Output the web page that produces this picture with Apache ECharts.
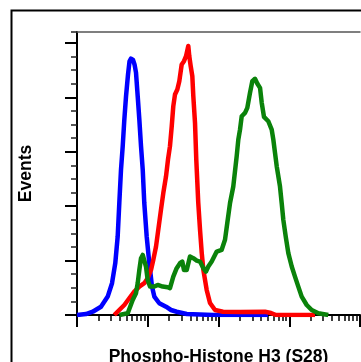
<!DOCTYPE html>
<html>
<head>
<meta charset="utf-8">
<script src="https://cdn.jsdelivr.net/npm/echarts@6/dist/echarts.min.js"></script>
<style>
  html, body { margin: 0; padding: 0; background: #fff; }
  #chart { width: 361px; height: 362px; }
</style>
</head>
<body>
<div id="chart"></div>
<script>
// x = fluorescence in decades (log10), y = events
const blue = [[0,0],[0.127,0.9],[0.222,3.0],[0.339,7.6],[0.434,16.9],[0.495,29.2],[0.541,47.6],[0.575,72.1],[0.598,102.9],[0.622,133.5],[0.646,155.0],[0.669,179.6],[0.693,201.0],[0.721,221.0],[0.742,233.0],[0.763,235.5],[0.792,234.3],[0.813,230.2],[0.834,222.6],[0.858,201.0],[0.881,179.6],[0.905,155.0],[0.929,133.5],[0.951,102.9],[0.985,72.1],[1.022,47.6],[1.060,26.1],[1.093,16.9],[1.163,10.8],[1.258,7.6],[1.329,4.6],[1.409,3.0],[1.551,0.9],[1.923,0],[2.7,0]];

const red = [[0.527,0],[0.598,4.6],[0.669,9.2],[0.739,15.4],[0.810,21.5],[0.881,26.1],[0.951,29.2],[0.999,33.8],[1.046,41.4],[1.078,50.6],[1.117,62.9],[1.155,81.3],[1.187,96.7],[1.220,112.1],[1.258,127.3],[1.286,142.7],[1.314,155.0],[1.339,173.4],[1.361,191.8],[1.385,202.6],[1.418,207.2],[1.446,214.8],[1.480,230.2],[1.512,233.2],[1.541,237.8],[1.573,247.1],[1.587,237.8],[1.607,228.6],[1.630,219.4],[1.644,201.0],[1.668,176.5],[1.686,142.7],[1.714,103.1],[1.739,78.3],[1.763,57.1],[1.786,41.4],[1.833,23.0],[1.880,11.0],[1.951,4.6],[2.064,3.0],[2.304,2.8],[2.657,3.0],[2.742,1.8],[2.813,0],[3.364,0]];

const green = [[0.6,0],[0.717,1.6],[0.787,13.8],[0.834,20.0],[0.858,29.2],[0.881,41.4],[0.905,52.2],[0.929,55.2],[0.951,53.7],[0.975,44.5],[0.999,32.2],[1.032,26.1],[1.093,26.1],[1.141,27.6],[1.211,26.1],[1.282,25.5],[1.314,24.6],[1.361,35.3],[1.409,43.0],[1.456,47.6],[1.488,49.1],[1.512,41.4],[1.551,41.4],[1.597,53.7],[1.644,52.2],[1.692,50.0],[1.739,49.1],[1.786,43.0],[1.823,39.9],[1.856,44.5],[1.904,49.1],[1.975,58.3],[2.045,59.9],[2.092,69.1],[2.124,84.4],[2.163,102.9],[2.209,118.1],[2.257,145.8],[2.280,161.1],[2.304,170.3],[2.328,182.6],[2.375,185.7],[2.407,190.3],[2.445,204.1],[2.478,214.8],[2.516,217.0],[2.548,212.7],[2.587,208.7],[2.611,194.9],[2.643,182.0],[2.671,181.1],[2.704,178.0],[2.752,170.3],[2.775,161.1],[2.799,148.9],[2.823,136.6],[2.869,118.1],[2.893,102.9],[2.916,87.5],[2.950,72.1],[2.987,56.8],[3.035,44.5],[3.081,35.3],[3.128,26.1],[3.176,16.9],[3.247,9.2],[3.317,4.6],[3.411,1.6],[3.552,0]];

const xMajor = [0, 1, 2, 3, 4];
const yMajor = [0, 50, 100, 150, 200, 250];
const yMax = 260;

// log minor ticks (2..9 in each decade)
const xMinor = [];
for (let d = 0; d < 4; d++) {
  for (let k = 2; k <= 9; k++) xMinor.push(d + Math.log10(k));
}
const yMinor = [];
for (let v = 12.5; v < yMax; v += 12.5) {
  if (v % 50 !== 0) yMinor.push(v);
}
yMinor.push(yMax);

const chart = echarts.init(document.getElementById('chart'));

const nameFont = { fontFamily: 'Arial, "Liberation Sans", sans-serif', fontWeight: 'bold', fontSize: 17.5, color: '#000' };

const option = {
  animation: false,
  backgroundColor: '#fff',
  grid: { left: 77, right: 1, top: 32, bottom: 47, outerBoundsMode: 'none', containLabel: false },
  graphic: [{
    type: 'rect', silent: true, z: -10,
    shape: { x: 11.5, y: 10.5, width: 420, height: 420 },
    style: { fill: 'none', stroke: '#000', lineWidth: 2 }
  }],
  xAxis: [
    {
      type: 'value', min: 0, max: 4, interval: 1, position: 'bottom',
      name: 'Phospho-Histone H3 (S28)', nameLocation: 'middle', nameGap: 33,
      nameTextStyle: nameFont,
      axisLine: { onZero: false, lineStyle: { color: '#000', width: 2 } },
      axisTick: { customValues: xMajor, length: 12, lineStyle: { color: '#000', width: 2 } },
      axisLabel: { show: false },
      splitLine: { show: false }
    },
    {
      type: 'value', min: 0, max: 4, position: 'bottom',
      axisLine: { show: false, onZero: false },
      axisTick: { customValues: xMinor, length: 6, lineStyle: { color: '#000', width: 1.5 } },
      axisLabel: { show: false },
      splitLine: { show: false }
    },
    {
      type: 'value', min: 0, max: 4, position: 'top',
      axisLine: { onZero: false, lineStyle: { color: '#555', width: 1.5 } },
      axisTick: { show: false },
      axisLabel: { show: false },
      splitLine: { show: false }
    }
  ],
  yAxis: [
    {
      type: 'value', min: 0, max: yMax, interval: 50, position: 'left',
      name: 'Events', nameLocation: 'middle', nameGap: 42,
      nameTextStyle: nameFont,
      axisLine: { show: true, onZero: false, lineStyle: { color: '#000', width: 2 } },
      axisTick: { show: true, customValues: yMajor, length: 12, lineStyle: { color: '#000', width: 2 } },
      axisLabel: { show: false },
      splitLine: { show: false }
    },
    {
      type: 'value', min: 0, max: yMax, position: 'left',
      axisLine: { show: false, onZero: false },
      axisTick: { show: true, customValues: yMinor, length: 6, lineStyle: { color: '#222', width: 1.5 } },
      axisLabel: { show: false },
      splitLine: { show: false }
    }
  ],
  series: [
    { name: 'Blue', type: 'line', data: blue, color: '#0000ff', z: 3 },
    { name: 'Red', type: 'line', data: red, color: '#ff0000', z: 4 },
    { name: 'Green', type: 'line', data: green, color: '#0a820a', z: 5 }
  ].map(s => Object.assign(s, {
    xAxisIndex: 0, yAxisIndex: 0,
    showSymbol: false, symbol: 'none',
    lineStyle: { width: 4.5, color: s.color, join: 'round' }
  }))
};

chart.setOption(option);
</script>
</body>
</html>
